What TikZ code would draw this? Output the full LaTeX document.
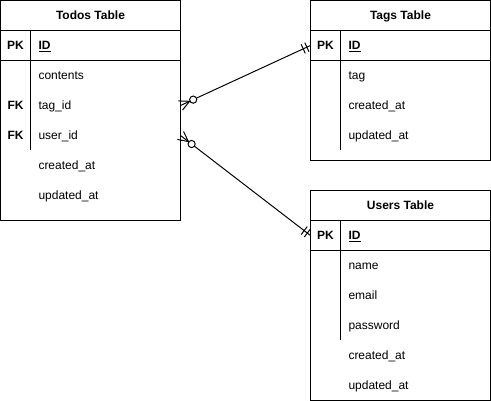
\documentclass[tikz,border=0pt]{standalone}
\usepackage{fontspec}
\setmainfont{Liberation Sans}
\usetikzlibrary{calc}
\begin{document}
\begin{tikzpicture}[x=1pt,y=-1pt,line width=1pt,
  tbl/.style={draw,rectangle,inner sep=0pt,outer sep=0pt,anchor=north west,minimum width=180pt},
  ttl/.style={font=\fontsize{12}{14}\selectfont\bfseries,anchor=base,inner sep=0pt},
  keyt/.style={font=\fontsize{12}{14}\selectfont\bfseries,anchor=base,inner sep=0pt},
  fld/.style={font=\fontsize{12}{14}\selectfont,anchor=base west,inner sep=0pt},
  pkf/.style={font=\fontsize{12}{14}\selectfont\bfseries,anchor=base west,inner sep=0pt},
  sep/.style={line width=1pt}]
\useasboundingbox (0,0) rectangle (491,401);

% ---------- Todos table ----------
\node[tbl,minimum height=220pt] (todos) at (0.5,0.5) {};
\draw[sep] (0.5,30.5) -- (180.5,30.5);
\draw[sep] (0.5,60.5) -- (180.5,60.5);
\draw[sep] (30.5,30.5) -- (30.5,150.5);
\node[ttl] (todosT) at (90.5,19.5) {Todos Table};
\node[keyt] (todosPK) at (15.5,49.5) {PK};
\node[pkf] (todosID) at (38,49.5) {\underline{ID}};
\node[fld] (tcontents) at (38,79.5) {contents};
\node[keyt] (tFK1) at (15.5,109.5) {FK};
\node[fld] (ttagid) at (38,109.5) {tag\_id};
\node[keyt] (tFK2) at (15.5,139.5) {FK};
\node[fld] (tuserid) at (38,139.5) {user\_id};
\node[fld] (tcreated) at (38,169.5) {created\_at};
\node[fld] (tupdated) at (38,199.5) {updated\_at};

% ---------- Tags table ----------
\node[tbl,minimum height=160pt] (tags) at (310.5,0.5) {};
\draw[sep] (310.5,30.5) -- (490.5,30.5);
\draw[sep] (310.5,60.5) -- (490.5,60.5);
\draw[sep] (340.5,30.5) -- (340.5,150.5);
\node[ttl] (tagsT) at (400.5,19.5) {Tags Table};
\node[keyt] (tagsPK) at (325.5,49.5) {PK};
\node[pkf] (tagsID) at (348,49.5) {\underline{ID}};
\node[fld] (gtag) at (348,79.5) {tag};
\node[fld] (gcreated) at (348,109.5) {created\_at};
\node[fld] (gupdated) at (348,139.5) {updated\_at};

% ---------- Users table ----------
\node[tbl,minimum height=210pt] (users) at (310.5,190.5) {};
\draw[sep] (310.5,220.5) -- (490.5,220.5);
\draw[sep] (310.5,250.5) -- (490.5,250.5);
\draw[sep] (340.5,220.5) -- (340.5,340.5);
\node[ttl] (usersT) at (400.5,209.5) {Users Table};
\node[keyt] (usersPK) at (325.5,239.5) {PK};
\node[pkf] (usersID) at (348,239.5) {\underline{ID}};
\node[fld] (uname) at (348,269.5) {name};
\node[fld] (uemail) at (348,299.5) {email};
\node[fld] (upass) at (348,329.5) {password};
\node[fld] (ucreated) at (348,359.5) {created\_at};
\node[fld] (uupdated) at (348,389.5) {updated\_at};

% ---------- connector end points ----------
\coordinate (e1a) at (todos.east |- 0,105.5);
\coordinate (e1b) at (tags.west |- 0,45.5);
\coordinate (e2a) at (todos.east |- 0,135.5);
\coordinate (e2b) at (users.west |- 0,235.5);

% ---------- connectors: zero-or-many to exactly-one ----------
\foreach \s/\t in {e1a/e1b,e2a/e2b}{
  % crow's foot
  \draw ($(\s)!5pt!90:(\t)$) -- ($(\s)!10pt!(\t)$) -- ($(\s)!5pt!-90:(\t)$);
  \draw (\s) -- ($(\s)!10pt!(\t)$);
  % circle
  \draw ($(\s)!14pt!(\t)$) circle[radius=3.6pt];
  % line
  \draw ($(\s)!17.6pt!(\t)$) -- (\t);
  % double bar
  \coordinate (m1) at ($(\t)!4pt!(\s)$);
  \coordinate (m2) at ($(\t)!8pt!(\s)$);
  \draw ($(m1)!5pt!90:(\t)$) -- ($(m1)!5pt!-90:(\t)$);
  \draw ($(m2)!5pt!90:(\t)$) -- ($(m2)!5pt!-90:(\t)$);
}
\end{tikzpicture}
\end{document}
